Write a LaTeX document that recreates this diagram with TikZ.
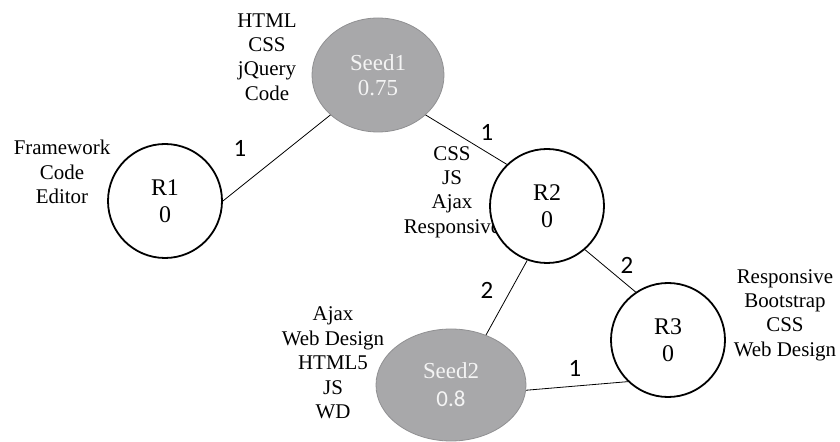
\documentclass[tikz,border=0pt]{standalone}
\usepackage{fontspec}
\setmainfont{Liberation Serif}
\newfontfamily\lblfont{Carlito}
\usetikzlibrary{shapes.geometric}
\definecolor{seedgray}{HTML}{A8A8AA}
\definecolor{seededge}{HTML}{909092}
\definecolor{seedtext}{HTML}{F4F4F4}
\tikzset{
  every node/.style={font=\fontsize{21}{24.5}\selectfont, inner sep=0pt},
  tags/.style={align=center},
  rnode/.style={circle, draw=black, line width=1.8bp, fill=white,
    minimum size=114bp, align=center, font=\fontsize{24}{27}\selectfont},
  seed/.style={ellipse, fill=seedgray, draw=seededge, line width=0.8bp,
    text=seedtext, align=center, font=\fontsize{23}{25}\selectfont},
  link/.style={draw=black, line width=0.8bp},
  wlabel/.style={font=\lblfont\fontsize{25}{27}\selectfont}
}
\begin{document}
\begin{tikzpicture}[x=1bp, y=-1bp]
  \useasboundingbox (0,0) rectangle (840,442);

  % keyword lists beside the nodes
  \node[tags] (t1) at (267,57) {HTML\\CSS\\jQuery\\Code};
  \node[tags] (tr1) at (62,172) {Framework\\Code\\Editor};
  \node[tags] (tr2) at (452,192) {CSS\\JS\\Ajax\\Responsive};
  \node[tags] (t2) at (333,363) {Ajax\\Web Design\\HTML5\\JS\\WD};
  \node[tags] (tr3) at (785,315) {Responsive\\Bootstrap\\CSS\\Web Design};

  % seed nodes and result nodes
  \node[seed, minimum width=132bp, minimum height=114bp] (s1) at (378,75)
    {Seed1\\0.75};
  \node[seed, minimum width=150bp, minimum height=112bp] (s2) at (451,385)
    {Seed2\\[3bp]{\lblfont 0.8}};
  \node[rnode] (r1) at (165,201) {R1\\0};
  \node[rnode] (r2) at (547,206) {R2\\0};
  \node[rnode] (r3) at (668,340) {R3\\0};

  % weighted links
  \draw[link] (s1.220) -- (r1.0);
  \draw[link] (s1.320) -- (r2.134);
  \draw[link] (r2.311) -- (r3.124);
  \draw[link] (r2.250) -- (s2.55);
  \draw[link] (s2.356) -- (r3.226);

  % link weights
  \node[wlabel] (w1) at (240,148) {1};
  \node[wlabel] (w2) at (487,132) {1};
  \node[wlabel] (w3) at (627,265) {2};
  \node[wlabel] (w4) at (487,290) {2};
  \node[wlabel] (w5) at (575,368) {1};
\end{tikzpicture}
\end{document}
